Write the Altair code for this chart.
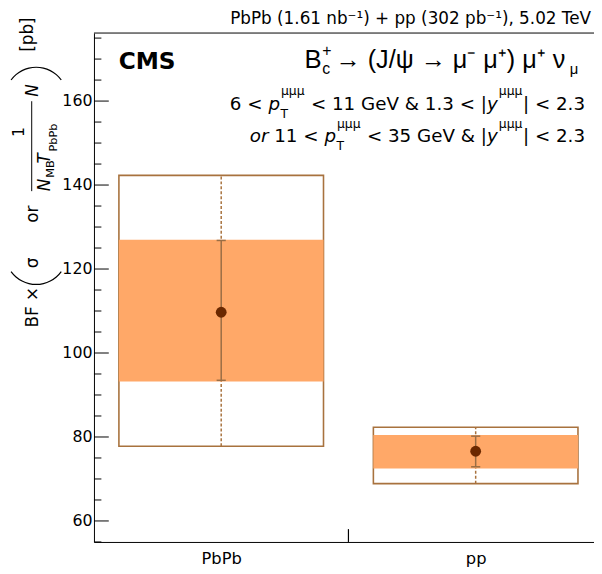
import math
import altair as alt
import pandas as pd

# ---------------- data ----------------
categories = ["PbPb", "pp"]
x_center = [0.5, 1.5]
central = [109.7, 76.6]
stat_lo = [93.5, 72.9]
stat_hi = [126.8, 80.2]
band_lo = [93.2, 72.5]
band_hi = [127.0, 80.5]
box_lo = [77.8, 68.9]
box_hi = [142.3, 82.3]
half_width = 0.402
cap_half = 0.018

y_domain = [55.0, 176.2]
x_domain = [0.0, 1.965]
y_major_ticks = [60, 80, 100, 120, 140, 160]
y_minor_ticks = [55, 65, 70, 75, 85, 90, 95, 105, 110, 115, 125, 130, 135, 145, 150, 155, 165, 170, 175]
x_ticks = [1.0]

W, H = 506, 515
FONT = "DejaVu Sans"
FONT2 = "Liberation Sans"
ORANGE = "#FFA868"
BROWN = "#A8723E"
ERR = "#9A6E45"
DOT = "#6B2800"

df = pd.DataFrame({
    "cat": categories,
    "x": x_center,
    "xl": [c - half_width for c in x_center],
    "xr": [c + half_width for c in x_center],
    "cl": [c - cap_half for c in x_center],
    "cr": [c + cap_half for c in x_center],
    "val": central,
    "slo": stat_lo, "shi": stat_hi,
    "blo": band_lo, "bhi": band_hi,
    "olo": box_lo, "ohi": box_hi,
})

xs = alt.Scale(domain=x_domain, nice=False, zero=False)
ys = alt.Scale(domain=y_domain, nice=False, zero=False)

base = alt.Chart(df)

box = base.mark_rect(filled=False, stroke=BROWN, strokeWidth=1.6).encode(
    x=alt.X("xl:Q", scale=xs, axis=alt.Axis(
        values=[0.5, 1.5], labelExpr="datum.value < 1 ? 'PbPb' : 'pp'",
        ticks=False, grid=False, domainColor="black", domainWidth=1,
        labelFontSize=16.5, labelColor="black", labelFont=FONT, labelPadding=9, title=None)),
    x2="xr:Q",
    y=alt.Y("olo:Q", scale=ys, axis=alt.Axis(
        values=y_major_ticks, ticks=False, grid=False, domainColor="black", domainWidth=1,
        labelFontSize=16, labelColor="black", labelFont=FONT, labelPadding=2, title=None)),
    y2="ohi:Q",
)

dotted = base.mark_rule(stroke=BROWN, strokeWidth=1.5, strokeDash=[3, 2]).encode(
    x=alt.X("x:Q", scale=xs), y=alt.Y("olo:Q", scale=ys), y2="ohi:Q")

band = base.mark_rect(fill=ORANGE, stroke=None).encode(
    x=alt.X("xl:Q", scale=xs), x2="xr:Q", y=alt.Y("blo:Q", scale=ys), y2="bhi:Q")

err = base.mark_rule(stroke=ERR, strokeWidth=1.5).encode(
    x=alt.X("x:Q", scale=xs), y=alt.Y("slo:Q", scale=ys), y2="shi:Q")
cap_lo = base.mark_rule(stroke=ERR, strokeWidth=1.5).encode(
    x=alt.X("cl:Q", scale=xs), x2="cr:Q", y=alt.Y("slo:Q", scale=ys))
cap_hi = base.mark_rule(stroke=ERR, strokeWidth=1.5).encode(
    x=alt.X("cl:Q", scale=xs), x2="cr:Q", y=alt.Y("shi:Q", scale=ys))

pts = base.mark_circle(size=120, color=DOT, opacity=1).encode(
    x=alt.X("x:Q", scale=xs), y=alt.Y("val:Q", scale=ys))

# inward ticks
tmaj = alt.Chart(pd.DataFrame({"t": y_major_ticks})).mark_rule(color="black", strokeWidth=1).encode(
    y=alt.Y("t:Q", scale=ys), x=alt.value(0), x2=alt.value(15))
tmin = alt.Chart(pd.DataFrame({"t": y_minor_ticks})).mark_rule(color="black", strokeWidth=1).encode(
    y=alt.Y("t:Q", scale=ys), x=alt.value(0), x2=alt.value(7.5))
xt = alt.Chart(pd.DataFrame({"t": x_ticks})).mark_rule(color="black", strokeWidth=1.2).encode(
    x=alt.X("t:Q", scale=xs), y=alt.value(H), y2=alt.value(H - 13))

one = pd.DataFrame({"a": [0]})
top_line = alt.Chart(one).mark_rule(color="black", strokeWidth=1).encode(
    x=alt.value(0), x2=alt.value(W), y=alt.value(0))


def txt(s, x, y, size, align="left", italic=False, bold=False, angle=0, font=FONT):
    kw = dict(text=s, fontSize=size, font=font, align=align, color="black", baseline="alphabetic")
    if italic:
        kw["fontStyle"] = "italic"
    if bold:
        kw["fontWeight"] = "bold"
    if angle:
        kw["angle"] = angle
    return alt.Chart(one).mark_text(**kw).encode(x=alt.value(x), y=alt.value(y))


# approximate DejaVu Sans advance widths (em) for laying out pieces of a line
DV = {" ": .318, "0": .636, "1": .636, "2": .636, "3": .636, "5": .636, "6": .636, ".": .318,
      "<": .838, "&": .780, "|": .337, "G": .775, "e": .615, "V": .684, "p": .635, "y": .592,
      "o": .612, "r": .411, "T": .611, "\u03bc": .636}


def tw(s, size):
    return sum(DV.get(c, .6) for c in s) * size


def math_line(pieces, x_end, y, f, fs):
    """pieces: (kind, text[, text2]); kinds: m=main, i=italic, ss=sub+sup"""
    widths = []
    for p in pieces:
        if p[0] == "ss":
            widths.append(max(tw(p[1], fs), tw(p[2], fs)) + 1.5)
        else:
            widths.append(tw(p[1], f))
    x = x_end - sum(widths)
    out = []
    for p, w in zip(pieces, widths):
        if p[0] in ("m", "i"):
            s = p[1]
            lead = len(s) - len(s.lstrip(" "))
            out.append(txt(s.strip(" "), x + lead * DV[" "] * f, y, f, italic=(p[0] == "i")))
        else:
            if p[1]:
                out.append(txt(p[1], x + 0.5, y + 0.45 * f, fs))
            out.append(txt(p[2], x + 1, y - 0.8 * f, fs))
        x += w
    return out


F, FS = 18.5, 12.5
lineA = math_line([("m", "6 < "), ("i", "p"), ("ss", "T", "\u03bc\u03bc\u03bc"), ("m", " < 11 GeV & 1.3 < |"),
                   ("i", "y"), ("ss", "", "\u03bc\u03bc\u03bc"), ("m", "| < 2.3")], 497, 77.5, F, FS)
lineB = math_line([("i", "or"), ("m", " 11 < "), ("i", "p"), ("ss", "T", "\u03bc\u03bc\u03bc"), ("m", " < 35 GeV & |"),
                   ("i", "y"), ("ss", "", "\u03bc\u03bc\u03bc"), ("m", "| < 2.3")], 497, 110.5, F, FS)

TS = 17      # y-title main size
TSS = 11.5   # y-title subscript size
texts = [
    txt("PbPb (1.61 nb\u207b\u00b9) + pp (302 pb\u207b\u00b9), 5.02 TeV", 503, -9.5, 17, align="right"),
    txt("CMS", 25, 36, 23.5, bold=True),
    # formula
    txt("B", 213, 35, 26, font=FONT2),
    txt("+", 231, 23, 16, font=FONT2),
    txt("c", 231, 41, 16, font=FONT2),
    txt("\u2192 (J/\u03c8 \u2192 \u03bc\u207b \u03bc\u207a) \u03bc\u207a \u03bd", 477, 35, 25.5, align="right", font=FONT2),
    txt("\u03bc", 490, 41, 15, align="right", font=FONT2),
    # y title (rotated)
    txt("BF \u00d7", -57, 298, TS, angle=270),
    txt("\u03c3", -57, 238, TS, angle=270),
    txt("or", -57, 192, TS, angle=270),
    txt("1", -71, 100, 16, angle=270, align="center"),
    txt("N", -44, 160, TS, angle=270, italic=True),
    txt("MB", -40, 146.5, TSS, angle=270),
    txt("T", -44, 132, TS, angle=270, italic=True),
    txt("PbPb", -37, 120, TSS, angle=270),
    txt("N", -57, 64.5, TS, angle=270, italic=True),
    txt("[pb]", -62, 19, TS, angle=270),
] + lineA + lineB

frac_bar = alt.Chart(one).mark_rule(color="black", strokeWidth=1).encode(
    x=alt.value(-63), y=alt.value(69), y2=alt.value(160))

R = 32
arc_open = alt.Chart(one).mark_arc(radius=R, radius2=R - 1.2, theta=math.radians(126), theta2=math.radians(234),
                                   color="black").encode(x=alt.value(-58.5), y=alt.value(223))
arc_close = alt.Chart(one).mark_arc(radius=R, radius2=R - 1.2, theta=math.radians(306), theta2=math.radians(414),
                                    color="black").encode(x=alt.value(-58.5), y=alt.value(66))

chart = alt.layer(
    box, dotted, band, err, cap_lo, cap_hi, pts, tmaj, tmin, xt, top_line, frac_bar, arc_open, arc_close, *texts
).properties(
    width=W, height=H,
    padding={"left": 87, "top": 22, "right": 0, "bottom": 22},
    autosize=alt.AutoSizeParams(type="none"),
).configure_view(stroke=None)

chart.save("out.html", embed_options={"renderer": "svg", "actions": False})
